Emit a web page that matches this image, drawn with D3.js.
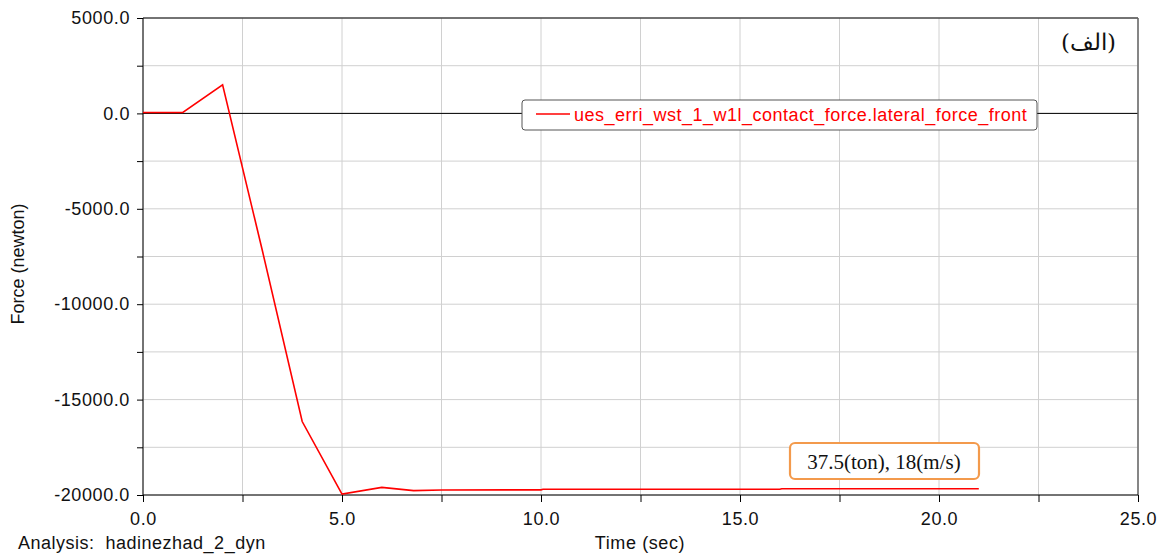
<!DOCTYPE html>
<html><head><meta charset="utf-8">
<script src="https://cdn.jsdelivr.net/npm/d3@7"></script>
<style>body{margin:0;background:#fff}svg{display:block}text{font-family:"Liberation Sans",Arial,sans-serif}</style>
</head><body>
<script>
const times = [0, 1, 2, 3, 4, 5, 6, 6.8, 7.5, 10, 10.05, 16, 16.05, 21];
const forces = [50, 50, 1500, -7200, -16150, -19950, -19600, -19770, -19740, -19730, -19700, -19700, -19670, -19670];
const xTicks = [0, 5, 10, 15, 20, 25];
const yTicks = [5000, 0, -5000, -10000, -15000, -20000];
const seriesName = "ues_erri_wst_1_w1l_contact_force.lateral_force_front";
const W = 1159, H = 554;
const svg = d3.select("body").append("svg").attr("width", W).attr("height", H);
const x = d3.scaleLinear().domain([0, 25]).range([143, 1138]);
const y = d3.scaleLinear().domain([-20000, 5000]).range([495, 18]);
const g = svg.append("g");
const fmt = d => d3.format(".1f")(d).replace("\u2212", "-");
// grid
const xg = d3.range(0, 25.01, 2.5), yg = d3.range(-20000, 5001, 2500);
g.selectAll(".vg").data(xg).enter().append("line").attr("x1", d => x(d)).attr("x2", d => x(d)).attr("y1", y(5000)).attr("y2", y(-20000)).attr("stroke", "#d0d0d0").attr("stroke-width", 1);
g.selectAll(".hg").data(yg).enter().append("line").attr("x1", x(0)).attr("x2", x(25)).attr("y1", d => y(d)).attr("y2", d => y(d)).attr("stroke", "#d0d0d0").attr("stroke-width", 1);
// zero line
g.append("line").attr("x1", x(0)).attr("x2", x(25)).attr("y1", y(0)).attr("y2", y(0)).attr("stroke", "#000");
// frame
g.append("line").attr("x1", x(0)).attr("x2", x(25)).attr("y1", y(5000)).attr("y2", y(5000)).attr("stroke", "#000");
g.append("line").attr("x1", x(25)).attr("x2", x(25)).attr("y1", y(5000)).attr("y2", y(-20000)).attr("stroke", "#666").attr("stroke-width", 1.5);
// axes
const xAxis = d3.axisBottom(x).tickValues(xg).tickSize(7).tickFormat(d => xTicks.includes(d) ? fmt(d) : "");
const xa = svg.append("g").attr("transform", `translate(0,${y(-20000)})`).call(xAxis);
const yAxis = d3.axisLeft(y).tickValues(yg).tickSize(6).tickFormat(d => yTicks.includes(d) ? fmt(d) : "");
const ya = svg.append("g").attr("transform", `translate(${x(0)},0)`).call(yAxis);
[xa, ya].forEach(a => { a.selectAll("text").attr("font-size", 18).attr("fill", "#111").style("letter-spacing", "0.6px").style("font-family", "'Liberation Sans',Arial,sans-serif"); a.selectAll("line,path").attr("stroke", "#000"); });
xa.select(".domain").attr("d", `M${x(0)},0H${x(25)}`);
ya.select(".domain").attr("d", `M0,${y(5000)}V${y(-20000)}`);
xa.selectAll("text").attr("dy", "1.12em");
ya.selectAll("text").attr("x", -13);
// line
const line = d3.line().x((d, i) => x(times[i])).y(d => y(d));
svg.append("path").datum(forces).attr("d", line).attr("fill", "none").attr("stroke", "#ff0000").attr("stroke-width", 1.6);
// legend
svg.append("rect").attr("x", 522).attr("y", 100).attr("width", 515).attr("height", 30).attr("rx", 3).attr("fill", "#fff").attr("stroke", "#555");
svg.append("line").attr("x1", 536).attr("x2", 570).attr("y1", 114).attr("y2", 114).attr("stroke", "#ff0000").attr("stroke-width", 1.5);
svg.append("text").attr("x", 574).attr("y", 121).attr("font-size", 18).style("letter-spacing", "0.5px").attr("fill", "#ff0000").text(seriesName);
// persian label
svg.append("text").attr("x", 1116).attr("y", 50).attr("text-anchor", "end").attr("font-size", 23).style("font-family", "'DejaVu Serif','Liberation Serif',serif").attr("fill", "#111").text("(الف)");
// annotation
svg.append("rect").attr("x", 790).attr("y", 443).attr("width", 189).attr("height", 36).attr("rx", 5).attr("fill", "#fff").attr("stroke", "#f39a4c").attr("stroke-width", 2.2);
svg.append("text").attr("x", 884).attr("y", 469).attr("text-anchor", "middle").attr("font-size", 21).style("font-family", "'Liberation Serif','Times New Roman',serif").attr("fill", "#111").text("37.5(ton), 18(m/s)");
// titles
svg.append("text").attr("transform", "translate(24,264) rotate(-90)").attr("text-anchor", "middle").attr("font-size", 18).attr("fill", "#111").text("Force (newton)");
svg.append("text").attr("x", 640).attr("y", 549).attr("text-anchor", "middle").attr("font-size", 18).style("letter-spacing", "0.6px").attr("fill", "#111").text("Time (sec)");
svg.append("text").attr("x", 18).attr("y", 549).attr("font-size", 18).style("letter-spacing", "0.5px").attr("fill", "#111").style("white-space", "pre").text("Analysis:  hadinezhad_2_dyn");
</script>
</body></html>
